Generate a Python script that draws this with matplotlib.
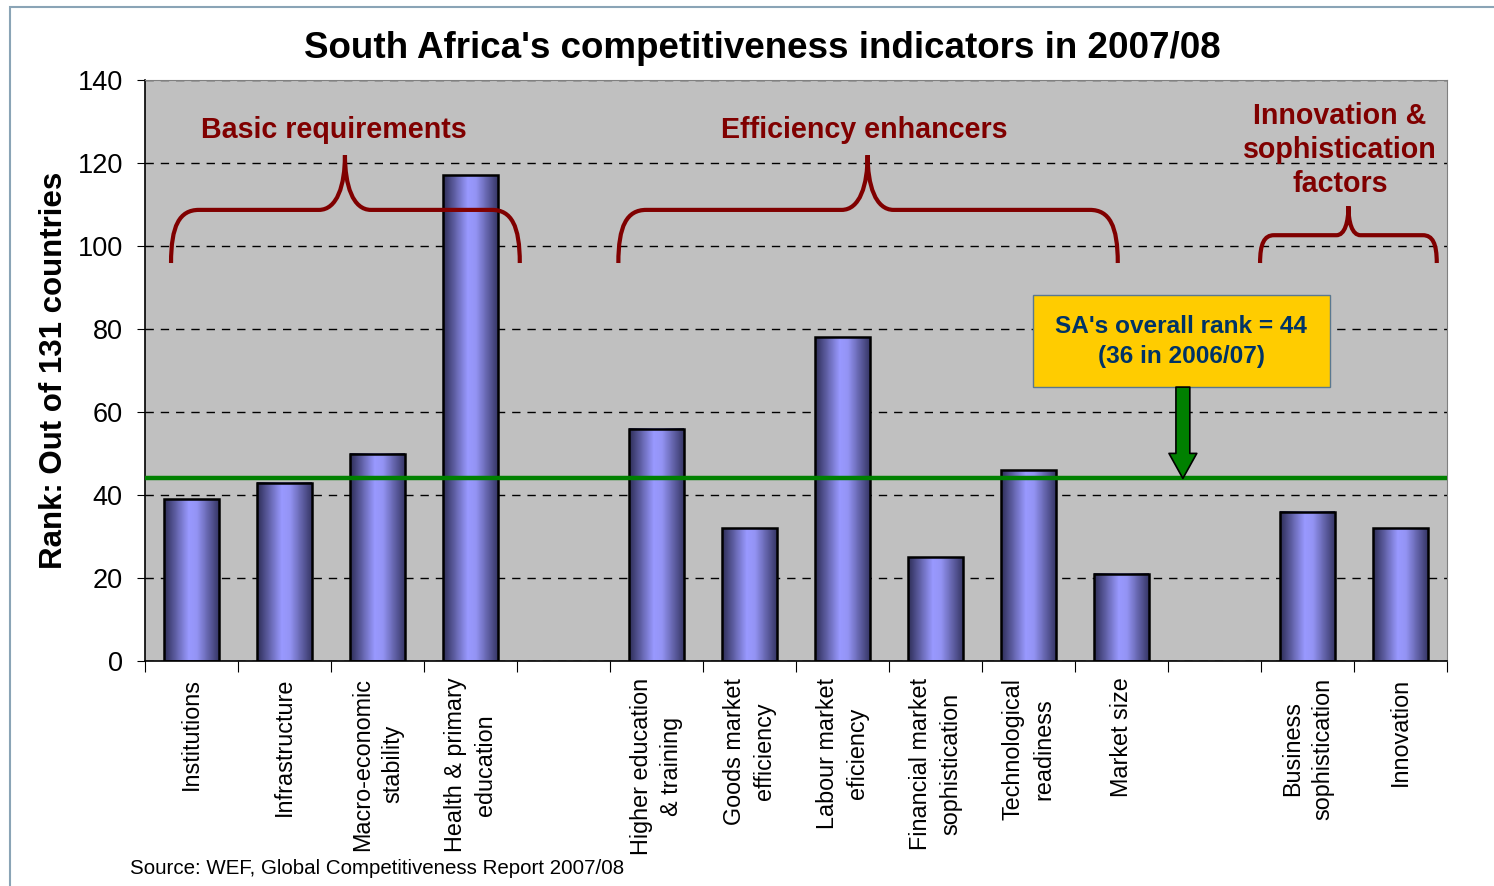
import numpy as np
import matplotlib
matplotlib.use('Agg')
import matplotlib.pyplot as plt
from matplotlib.path import Path
from matplotlib.patches import PathPatch, Rectangle
from matplotlib.colors import LinearSegmentedColormap

plt.rcParams['font.family'] = ['Liberation Sans', 'DejaVu Sans']

# ---- Data
categories = ['Institutions', 'Infrastructure', 'Macro-economic\nstability',
              'Health & primary\neducation', '',
              'Higher education\n& training', 'Goods market\nefficiency',
              'Labour market\neficiency', 'Financial market\nsophistication',
              'Technological\nreadiness', 'Market size', '',
              'Business\nsophistication', 'Innovation']
ranks = [39, 43, 50, 117, np.nan, 56, 32, 78, 25, 46, 21, np.nan, 36, 32]
overall_rank = 44
yticks = [0, 20, 40, 60, 80, 100, 120, 140]

# group labels: (text, x, y) and braces: (x0, x1, xmid, ybottom, yflat, ypeak, r_end, r_mid)
groups = [("Basic requirements", 1.53, 127.9),
          ("Efficiency enhancers", 7.23, 127.9),
          ("Innovation &\nsophistication\nfactors", 12.35, 123.2)]
braces = [(-0.22, 3.53, 1.65, 95.9, 108.7, 121.9, 0.30, 0.28),
          (4.59, 9.96, 7.27, 95.9, 108.7, 121.9, 0.30, 0.28),
          (11.49, 13.39, 12.44, 95.9, 102.6, 109.6, 0.15, 0.13)]

red = '#800000'
fig = plt.figure(figsize=(14.94, 8.86), dpi=100)
ax = fig.add_axes([145/1494, 1 - 661/886, 1302/1494, 581/886])
ax.set_facecolor('#C0C0C0')

x = np.arange(len(categories))
bar_w = 0.59
cmap = LinearSegmentedColormap.from_list(
    'cyl', [(0, '#2e2e58'), (0.45, '#9999ff'), (0.6, '#9494f5'), (1, '#383868')])
grad = np.linspace(0, 1, 64).reshape(1, -1)
for xi, v in zip(x, ranks):
    if np.isnan(v):
        continue
    ax.imshow(grad, cmap=cmap, aspect='auto', interpolation='bilinear',
              extent=[xi - bar_w/2, xi + bar_w/2, 0, v], zorder=2)
ax.bar(x, ranks, width=bar_w, facecolor='none', edgecolor='black',
       linewidth=1.8, zorder=3)

ax.set_xlim(-0.5, len(categories) - 0.5)
ax.set_ylim(0, 140)
ax.set_yticks(yticks)
ax.yaxis.grid(True, ls=(0, (6, 5)), color='black', lw=1)
ax.set_axisbelow(True)
ax.tick_params(axis='y', direction='out', length=6, labelsize=19.5, pad=10)

ax.set_xticks(np.arange(-0.5, len(categories), 1))
ax.set_xticklabels([])
ax.tick_params(axis='x', which='major', direction='out', length=8)
ax.set_xticks(x, minor=True)
ax.set_xticklabels(categories, minor=True, rotation=90, fontsize=16.8,
                   va='top', ha='center', multialignment='center',
                   linespacing=1.4)
ax.tick_params(axis='x', which='minor', length=0, pad=12)

for s in ['top', 'right']:
    ax.spines[s].set_color('#808080')
for s in ['left', 'bottom']:
    ax.spines[s].set_color('black')
    ax.spines[s].set_linewidth(1.2)

ax.set_ylabel('Rank: Out of 131 countries', fontsize=22.5, fontweight='bold',
              labelpad=6)

# overall rank line
ax.axhline(overall_rank, color='#008000', lw=3.2, zorder=4)

# braces
for x0, x1, xm, yb, yf, yp, re, rm in braces:
    verts = [(x0, yb),
             (x0, yb + 0.7*(yf - yb)), (x0 + 0.3*re, yf), (x0 + re, yf),
             (xm - rm, yf),
             (xm - 0.3*rm, yf), (xm, yf + 0.45*(yp - yf)), (xm, yp),
             (xm, yf + 0.45*(yp - yf)), (xm + 0.3*rm, yf), (xm + rm, yf),
             (x1 - re, yf),
             (x1 - 0.3*re, yf), (x1, yb + 0.7*(yf - yb)), (x1, yb)]
    codes = [Path.MOVETO] + [Path.CURVE4]*3 + [Path.LINETO] + [Path.CURVE4]*6 \
        + [Path.LINETO] + [Path.CURVE4]*3
    ax.add_patch(PathPatch(Path(verts, codes), fc='none', ec=red, lw=3,
                           capstyle='butt', zorder=5))

for txt, gx, gy in groups:
    ax.text(gx, gy, txt, color=red, fontsize=20.6, fontweight='bold',
            ha='center', va='center', linespacing=1.28, zorder=6)

# annotation box and arrow
ax.add_patch(Rectangle((9.05, 66.0), 3.19, 22.2, fc='#FFCC00', ec='#5a7890',
                       lw=1, zorder=6))
ax.text(10.64, 76.9, "SA's overall rank = 44\n(36 in 2006/07)", color='#003366',
        fontsize=17.6, fontweight='bold', ha='center', va='center',
        linespacing=1.38, zorder=7)
ax.annotate('', xy=(10.66, overall_rank), xytext=(10.66, 66.0),
            arrowprops=dict(arrowstyle='simple,head_width=1.0,head_length=0.9,tail_width=0.5',
                            mutation_scale=20, fc='#008000', ec='black', lw=1.2,
                            shrinkA=0, shrinkB=0), zorder=6)

fig.text(762/1494, 1 - 48/886, "South Africa's competitiveness indicators in 2007/08",
         fontsize=26.5, fontweight='bold', ha='center', va='center')
fig.text(130/1494, 1 - 868/886, "Source: WEF, Global Competitiveness Report 2007/08",
         fontsize=14.8, ha='left', va='center')

# outer frame
fig.patches.append(Rectangle((10/1494, -0.1), 1.2, 1 - 7/886 + 0.1,
                             transform=fig.transFigure, fc='none',
                             ec='#8aa4b6', lw=1.5, zorder=0))

fig.savefig('out.png', dpi=100)
